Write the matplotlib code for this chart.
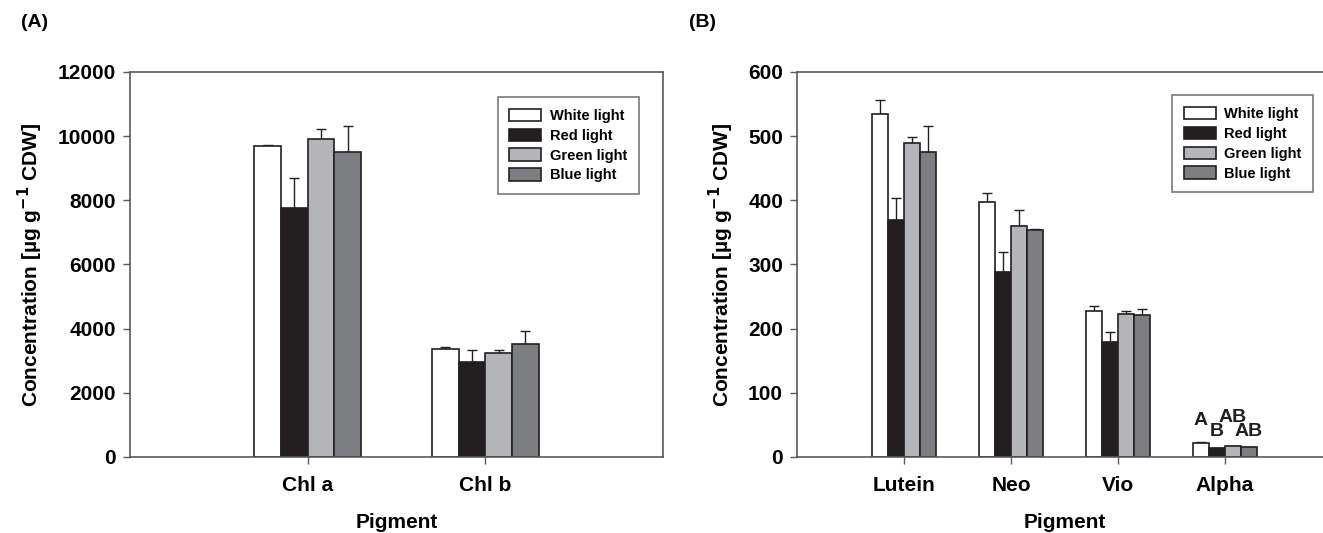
import numpy as np
import matplotlib
matplotlib.use("Agg")
import matplotlib.pyplot as plt
from matplotlib.patches import Patch

plt.rcParams['font.family'] = ['Liberation Sans', 'DejaVu Sans']
plt.rcParams['font.weight'] = 'bold'

treatments = ["White light", "Red light", "Green light", "Blue light"]
colors = ["#ffffff", "#231f20", "#b4b5b8", "#7d7e82"]

# panel A: chlorophylls
chl_names = ["Chl a", "Chl b"]
chl_mean = [[9690, 3375], [7770, 2950], [9900, 3240], [9510, 3520]]
chl_err = [[30, 40], [910, 400], [330, 110], [800, 420]]

# panel B: carotenoids
car_names = ["Lutein", "Neo", "Vio", "Alpha"]
car_mean = [[535, 398, 228, 21.2],
            [370, 289, 179, 14.3],
            [490, 360, 223, 17.0],
            [475, 354, 222, 14.9]]
car_err = [[22, 14, 8, 1.5],
           [33, 30, 16, 0],
           [9, 25, 5, 0.5],
           [41, 1, 9, 0.3]]
alpha_letters = ["A", "B", "AB", "AB"]
alpha_letter_y = [57, 40, 62, 40]

edge = "#231f20"
spine_c = "#58595b"
bw = 0.15


def draw(ax, names, means, errs, ymax, ystep, xmax, anchor):
    x = np.arange(1, len(names) + 1)
    for i in range(4):
        pos = x - 0.3 + bw / 2 + i * bw
        ax.bar(pos, means[i], bw, color=colors[i], edgecolor=edge,
               linewidth=1.2, zorder=2, label=treatments[i])
        ax.errorbar(pos, means[i], yerr=[np.zeros(len(names)), errs[i]],
                    fmt='none', ecolor=edge, elinewidth=1, capsize=3.5,
                    capthick=1, zorder=1)
    ax.set_xlim(0, xmax)
    ax.set_ylim(0, ymax)
    ax.set_yticks(np.arange(0, ymax + 1, ystep))
    ax.set_xticks(x)
    ax.set_xticklabels(names, fontsize=15, fontweight='bold')
    ax.tick_params(axis='y', labelsize=15, length=5, width=1, color=spine_c, pad=5)
    ax.tick_params(axis='x', length=5, width=1, color=spine_c, pad=9)
    for s in ax.spines.values():
        s.set_color(spine_c)
        s.set_linewidth(1.2)
    ax.set_xlabel("Pigment", fontsize=15, fontweight='bold', labelpad=13)
    ax.set_ylabel(r"Concentration [µg g$^{\mathbf{-1}}$ CDW]", fontsize=15,
                  fontweight='bold', labelpad=9)
    handles = [Patch(facecolor=c, edgecolor=edge, linewidth=1.2) for c in colors]
    leg = ax.legend(handles, treatments, loc='upper right',
                    bbox_to_anchor=anchor, borderaxespad=0,
                    fancybox=False, edgecolor=spine_c, fontsize=10.5,
                    handlelength=2.2, handleheight=0.9, labelspacing=0.4,
                    borderpad=0.8, handletextpad=0.6)
    leg.get_frame().set_linewidth(1.2)
    for t in leg.get_texts():
        t.set_fontweight('bold')


fig = plt.figure(figsize=(13.23, 5.33), dpi=100)
axA = fig.add_axes([0.0982, 0.1426, 0.4029, 0.7224])
axB = fig.add_axes([0.6024, 0.1426, 0.4044, 0.7224])

draw(axA, chl_names, chl_mean, chl_err, 12000, 2000, 3, (0.955, 0.935))
draw(axB, car_names, car_mean, car_err, 600, 100, 5, (0.965, 0.94))

# significance letters on Alpha
xa = 4 - 0.3 + bw / 2 + np.arange(4) * bw
for xi, yi, lab in zip(xa, alpha_letter_y, alpha_letters):
    axB.text(xi, yi, lab, ha='center', va='center', fontsize=14,
             fontweight='bold', color=edge)

fig.text(0.016, 0.958, "(A)", fontsize=14, fontweight='bold', va='center')
fig.text(0.521, 0.958, "(B)", fontsize=14, fontweight='bold', va='center')

fig.savefig("out.png", dpi=100)
